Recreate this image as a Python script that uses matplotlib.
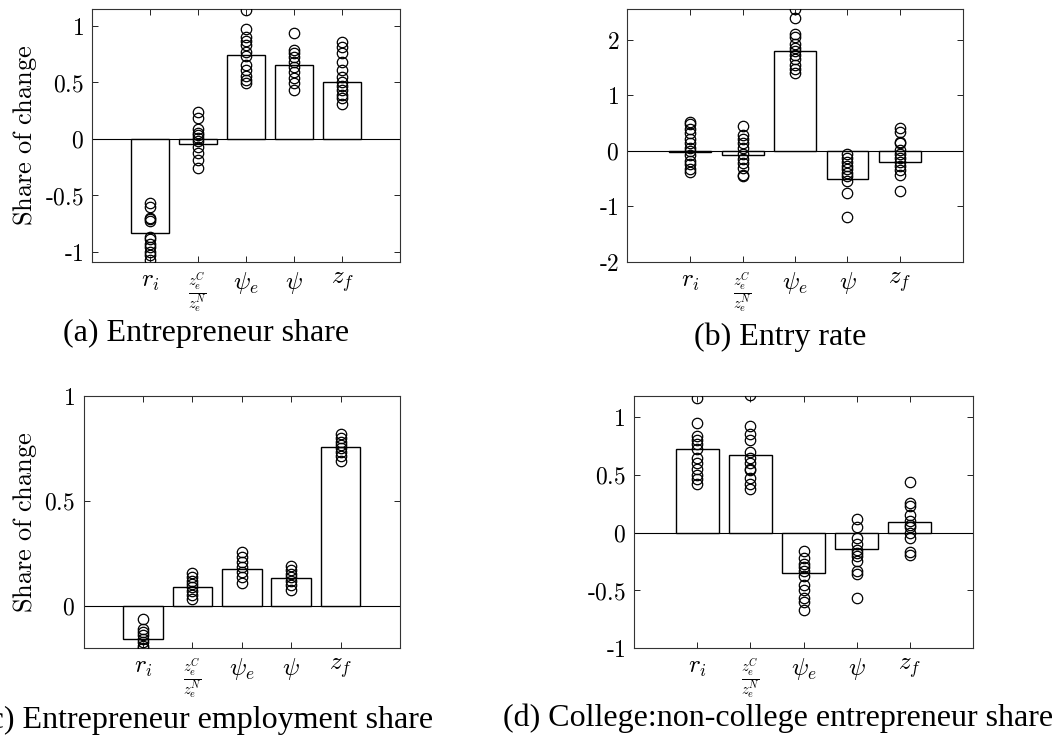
import numpy as np
import matplotlib.pyplot as plt

plt.rcParams['mathtext.fontset'] = 'cm'
plt.rcParams['font.family'] = 'serif'
plt.rcParams['font.serif'] = ['DejaVu Serif']

labels = [r'$r_i$', r'$\frac{z_e^C}{z_e^N}$', r'$\psi_e$', r'$\psi$', r'$z_f$']

# (a) Entrepreneur share
a_bars = [-0.83, -0.05, 0.74, 0.65, 0.50]
a_pts = [
    [-0.57, -0.6, -0.7, -0.71, -0.73, -0.87, -0.89, -0.93, -0.96, -1.0, -1.03, -1.07],
    [0.24, 0.18, 0.09, 0.05, 0.035, 0.006, -0.02, -0.07, -0.13, -0.19, -0.26],
    [1.14, 0.97, 0.9, 0.87, 0.83, 0.77, 0.73, 0.65, 0.61, 0.56, 0.52, 0.49],
    [0.94, 0.79, 0.76, 0.72, 0.68, 0.64, 0.59, 0.54, 0.49, 0.43],
    [0.86, 0.81, 0.76, 0.68, 0.61, 0.55, 0.5, 0.47, 0.43, 0.39, 0.36, 0.31],
]
# (b) Entry rate
b_bars = [-0.02, -0.08, 1.80, -0.50, -0.20]
b_pts = [
    [0.53, 0.48, 0.4, 0.33, 0.22, 0.15, 0.05, 0.0, -0.08, -0.18, -0.23, -0.33, -0.38],
    [0.45, 0.28, 0.22, 0.15, 0.05, -0.05, -0.15, -0.22, -0.3, -0.43, -0.46],
    [2.56, 2.4, 2.1, 2.05, 1.93, 1.85, 1.8, 1.73, 1.65, 1.55, 1.48, 1.4],
    [-0.05, -0.12, -0.2, -0.27, -0.33, -0.4, -0.46, -0.55, -0.75, -1.19],
    [0.42, 0.35, 0.17, 0.15, 0.02, -0.05, -0.13, -0.2, -0.27, -0.35, -0.43, -0.72],
]
# (c) Entrepreneur employment share
c_bars = [-0.158, 0.09, 0.178, 0.134, 0.755]
c_pts = [
    [-0.06, -0.11, -0.125, -0.14, -0.158, -0.17, -0.19, -0.2],
    [0.156, 0.137, 0.12, 0.105, 0.09, 0.07, 0.05, 0.033],
    [0.255, 0.232, 0.209, 0.185, 0.16, 0.137, 0.108],
    [0.19, 0.17, 0.153, 0.137, 0.12, 0.1, 0.076],
    [0.817, 0.8, 0.78, 0.765, 0.75, 0.734, 0.713, 0.69],
]
# (d) College:non-college entrepreneur share
d_bars = [0.72, 0.67, -0.35, -0.14, 0.09]
d_pts = [
    [1.17, 0.95, 0.84, 0.8, 0.77, 0.72, 0.65, 0.6, 0.55, 0.5, 0.46, 0.42],
    [1.19, 0.92, 0.85, 0.8, 0.7, 0.65, 0.6, 0.55, 0.54, 0.47, 0.42, 0.38],
    [-0.16, -0.22, -0.27, -0.3, -0.33, -0.38, -0.45, -0.5, -0.57, -0.6, -0.67],
    [0.12, 0.05, -0.05, -0.1, -0.15, -0.18, -0.2, -0.25, -0.33, -0.36, -0.57],
    [0.44, 0.26, 0.23, 0.15, 0.1, 0.07, 0.05, 0.0, -0.05, -0.17, -0.19],
]

# caption: (text, x px, y px, alignment)
panels = [
    (a_bars, a_pts, (-1.09, 1.15), [-1, -0.5, 0, 0.5, 1], True,
     ('(a) Entrepreneur share', 206, 333, 'center'), [0.087, 0.648, 0.291, 0.340]),
    (b_bars, b_pts, (-2.0, 2.56), [-2, -1, 0, 1, 2], False,
     ('(b) Entry rate', 780, 337, 'center'), [0.593, 0.648, 0.317, 0.340]),
    (c_bars, c_pts, (-0.2, 1.0), [0, 0.5, 1], True,
     ('(c) Entrepreneur employment share', 433, 720, 'right'), [0.079, 0.129, 0.299, 0.339]),
    (d_bars, d_pts, (-1.0, 1.185), [-1, -0.5, 0, 0.5, 1], False,
     ('(d) College:non-college entrepreneur share', 1053, 718, 'right'), [0.599, 0.129, 0.321, 0.339]),
]

W, H = 1058, 744
fig = plt.figure(figsize=(W / 100, H / 100), dpi=100)
x = np.arange(1, 6)
for bars, pts, ylim, yt, ylab, cap, rect in panels:
    ax = fig.add_axes(rect)
    ax.bar(x, bars, width=0.8, facecolor='white', edgecolor='black', linewidth=1.0, zorder=2)
    ax.axhline(0, color='black', lw=0.8, zorder=1)
    for i, p in enumerate(pts):
        ax.plot([x[i]] * len(p), p, 'o', mfc='none', mec='black', ms=7.5, mew=0.9, zorder=3)
    ax.set_xlim(-0.2, 6.2)
    ax.set_ylim(*ylim)
    ax.set_xticks(x)
    ax.set_xticklabels(labels, fontsize=18)
    ax.get_xticklabels()[1].set_fontsize(15)
    ax.set_yticks(yt)
    ax.set_yticklabels([(r'$\text{-}%g$' % -v) if v < 0 else ('$%g$' % v) for v in yt], fontsize=17)
    ax.tick_params(direction='in', top=True, right=True, length=4, width=0.6, pad=6)
    for s in ax.spines.values():
        s.set_linewidth(0.8)
        s.set_color('#333333')
    if ylab:
        ax.set_ylabel(r'$\mathrm{Share\ of\ change}$', fontsize=19)
    txt, cxp, cyp, ha = cap
    fig.text(cxp / W, 1 - cyp / H, txt, ha=ha, va='center',
             fontsize=23, family='Liberation Serif')

fig.savefig('out.png', dpi=100)
